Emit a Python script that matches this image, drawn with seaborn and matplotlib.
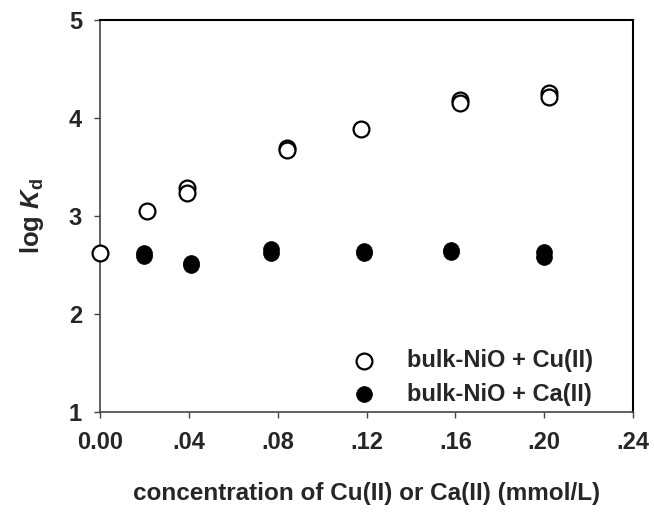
import matplotlib
matplotlib.use("Agg")
import matplotlib.pyplot as plt
import seaborn as sns
import pandas as pd

cu_x = [0.000, 0.021, 0.039, 0.039, 0.084, 0.084, 0.1175, 0.162, 0.162, 0.202, 0.202]
cu_y = [2.62, 3.05, 3.29, 3.23, 3.69, 3.67, 3.89, 4.18, 4.15, 4.26, 4.21]
ca_x = [0.020, 0.020, 0.041, 0.041, 0.077, 0.077, 0.119, 0.119, 0.158, 0.158, 0.200, 0.200]
ca_y = [2.62, 2.59, 2.52, 2.50, 2.66, 2.62, 2.62, 2.64, 2.63, 2.65, 2.63, 2.58]
cu_label = "bulk-NiO + Cu(II)"
ca_label = "bulk-NiO + Ca(II)"
x_ticks = [0.00, 0.04, 0.08, 0.12, 0.16, 0.20, 0.24]
x_ticklabels = ["0.00", ".04", ".08", ".12", ".16", ".20", ".24"]
y_ticks = [1, 2, 3, 4, 5]

sns.set_theme(style="ticks")
plt.rcParams['font.family'] = ['Liberation Sans', 'DejaVu Sans']
plt.rcParams['font.weight'] = 'bold'
plt.rcParams['mathtext.fontset'] = 'custom'
plt.rcParams['mathtext.rm'] = 'Liberation Sans:bold'
plt.rcParams['mathtext.it'] = 'Liberation Sans:italic:bold'
plt.rcParams['mathtext.bf'] = 'Liberation Sans:bold'

df = pd.concat([
    pd.DataFrame({"x": cu_x, "y": cu_y, "series": cu_label}),
    pd.DataFrame({"x": ca_x, "y": ca_y, "series": ca_label}),
])

fig = plt.figure(figsize=(6.54, 5.13), dpi=100)
ax = fig.add_axes([100/654, 1 - 412/513, 533/654, 392/513])

sns.scatterplot(data=df[df.series == cu_label], x="x", y="y", ax=ax,
                marker="o", s=130, facecolor="white", edgecolor="black",
                linewidth=1.6, label=cu_label, zorder=3, clip_on=False)
sns.scatterplot(data=df[df.series == ca_label], x="x", y="y", ax=ax,
                marker="o", s=130, color="black", edgecolor="black",
                linewidth=0.5, label=ca_label, zorder=3, clip_on=False)

ax.set_xlim(0, 0.24)
ax.set_ylim(1, 5)
ax.set_xticks(x_ticks)
ax.set_xticklabels(x_ticklabels)
ax.set_yticks(y_ticks)
ax.tick_params(axis='both', labelsize=17, direction='out', length=4, width=1,
               color='#444444', top=False, right=False)
for lab in ax.get_xticklabels() + ax.get_yticklabels():
    lab.set_fontweight('bold')
ax.tick_params(axis='x', pad=10)
ax.tick_params(axis='y', pad=9)

for side in ['top', 'right']:
    ax.spines[side].set_color('black')
    ax.spines[side].set_linewidth(1.5)
for side in ['left', 'bottom']:
    ax.spines[side].set_color('#444444')
    ax.spines[side].set_linewidth(1.2)

ax.set_xlabel("concentration of Cu(II) or Ca(II) (mmol/L)", fontsize=17.5,
              fontweight='bold', labelpad=20)
ax.set_ylabel(r"log $K_{\mathrm{d}}$", fontsize=18.5, fontweight='bold', labelpad=16)

leg = ax.legend(loc='upper left', bbox_to_anchor=(331/654, (513-340)/513),
                bbox_transform=fig.transFigure, frameon=False,
                fontsize=17, labelspacing=0.43, handletextpad=0.82,
                borderaxespad=0.0)
for t in leg.get_texts():
    t.set_fontweight('bold')

fig.savefig("out.png", dpi=100)
